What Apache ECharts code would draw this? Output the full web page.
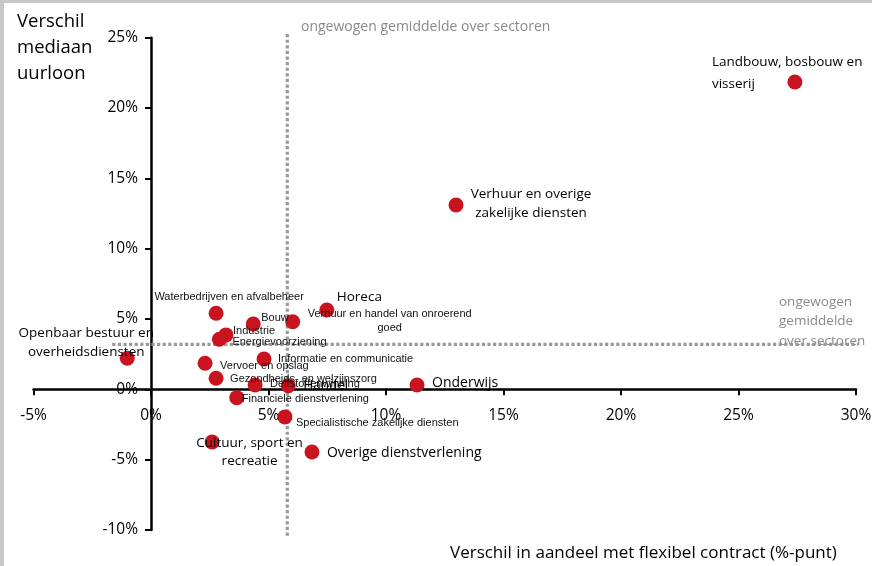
<!DOCTYPE html>
<html>
<head>
<meta charset="utf-8">
<script src="https://cdn.jsdelivr.net/npm/echarts@6/dist/echarts.min.js"></script>
<style>
  html, body { margin: 0; padding: 0; background: #fff; }
  #chart { width: 872px; height: 566px; }
</style>
</head>
<body>
<div id="chart"></div>
<script>
// ---- data ----
const sectors = [
  "Landbouw, bosbouw en\nvisserij",
  "Verhuur en overige\nzakelijke diensten",
  "Horeca",
  "Verhuur en handel van onroerend\ngoed",
  "Waterbedrijven en afvalbeheer",
  "Bouw",
  "Industrie",
  "Energievoorziening",
  "Openbaar bestuur en\noverheidsdiensten",
  "Informatie en communicatie",
  "Vervoer en opslag",
  "Gezondheids- en welzijnszorg",
  "Delfstoffenwinning",
  "Handel",
  "Onderwijs",
  "Financiele dienstverlening",
  "Specialistische zakelijke diensten",
  "Cultuur, sport en\nrecreatie",
  "Overige dienstverlening"
];
// difference in share with flexible contract (%-point)
const flexDiff = [27.40, 12.98, 7.48, 6.03, 2.77, 4.35, 3.19, 2.91, -1.01, 4.81, 2.30, 2.77, 4.43, 5.84, 11.32, 3.65, 5.70, 2.60, 6.85];
// difference in median hourly wage (%)
const wageDiff = [21.85, 13.11, 5.64, 4.81, 5.41, 4.65, 3.87, 3.56, 2.21, 2.16, 1.86, 0.79, 0.31, 0.26, 0.31, -0.59, -1.96, -3.74, -4.45];
const avgFlex = 5.8;   // unweighted average over sectors (x)
const avgWage = 3.2;   // unweighted average over sectors (y)
const xTicks = { min: -5, max: 30, step: 5 };
const yTicks = { min: -10, max: 25, step: 5 };

// ---- label styling (offsets from the point centre, in px) ----
const BIG = { fontFamily: 'Open Sans', fontSize: 13.5, color: '#000' };
const SMALL = { fontFamily: 'Liberation Sans', fontSize: 11, color: '#111' };
const labelStyle = {
  "Landbouw, bosbouw en\nvisserij": { dx: -83, dy: -31, align: 'left', va: 'top', lh: 22, f: BIG },
  "Verhuur en overige\nzakelijke diensten": { dx: 75, dy: -20, align: 'center', va: 'top', lh: 19, f: BIG },
  "Horeca": { dx: 10, dy: -13, align: 'left', va: 'middle', f: BIG },
  "Verhuur en handel van onroerend\ngoed": { dx: 97, dy: -15, align: 'center', va: 'top', lh: 14, f: SMALL },
  "Waterbedrijven en afvalbeheer": { dx: 13, dy: -16, align: 'center', va: 'middle', f: SMALL },
  "Bouw": { dx: 8, dy: -6, align: 'left', va: 'middle', f: SMALL },
  "Industrie": { dx: 7, dy: -4, align: 'left', va: 'middle', f: SMALL },
  "Energievoorziening": { dx: 13, dy: 3, align: 'left', va: 'middle', f: SMALL },
  "Openbaar bestuur en\noverheidsdiensten": { dx: -41, dy: -35, align: 'center', va: 'top', lh: 19, f: BIG },
  "Informatie en communicatie": { dx: 14, dy: 0, align: 'left', va: 'middle', f: SMALL },
  "Vervoer en opslag": { dx: 15, dy: 2.5, align: 'left', va: 'middle', f: SMALL },
  "Gezondheids- en welzijnszorg": { dx: 14, dy: 1, align: 'left', va: 'middle', f: SMALL },
  "Delfstoffenwinning": { dx: 15, dy: -1, align: 'left', va: 'middle', f: SMALL },
  "Handel": { dx: 15, dy: -1, align: 'left', va: 'middle', f: BIG },
  "Onderwijs": { dx: 15, dy: -2, align: 'left', va: 'middle', f: { fontFamily: 'Open Sans', fontSize: 14, color: '#000' } },
  "Financiele dienstverlening": { dx: 5, dy: 1, align: 'left', va: 'middle', f: SMALL },
  "Specialistische zakelijke diensten": { dx: 11, dy: 6, align: 'left', va: 'middle', f: SMALL },
  "Cultuur, sport en\nrecreatie": { dx: 37.5, dy: -8, align: 'center', va: 'top', lh: 18, f: BIG },
  "Overige dienstverlening": { dx: 15, dy: 1, align: 'left', va: 'middle', f: { fontFamily: 'Open Sans', fontSize: 14, color: '#000' } }
};

const SYM = 15;
const pointData = sectors.map((name, i) => {
  const s = labelStyle[name];
  return {
    name: name,
    value: [flexDiff[i], wageDiff[i]],
    label: {
      show: true,
      formatter: name,
      position: [s.dx + SYM / 2, s.dy + SYM / 2],
      align: s.align,
      verticalAlign: s.va,
      lineHeight: s.lh || Math.round(s.f.fontSize * 1.3),
      fontFamily: s.f.fontFamily,
      fontSize: s.f.fontSize,
      color: s.f.color
    }
  };
});

const dotted = { color: '#999999', width: 3.2, type: [3.2, 2.4], cap: 'butt' };
const axisFont = { fontFamily: 'Open Sans', fontSize: 15.5, color: '#000' };

const GRID = { left: 33.5, right: 16, top: 37.7, bottom: 36 };
const chart = echarts.init(document.getElementById('chart'), null, { renderer: 'canvas' });
chart.setOption({
  animation: false,
  backgroundColor: '#ffffff',
  grid: Object.assign({ containLabel: false, outerBoundsMode: 'none' }, GRID),
  xAxis: {
    type: 'value', min: xTicks.min, max: xTicks.max, interval: xTicks.step,
    position: 'bottom', offset: 0,
    axisLine: { onZero: false, lineStyle: { color: '#000', width: 2.5 } },
    axisTick: { show: true, length: 6, lineStyle: { color: '#000', width: 2 } },
    axisLabel: Object.assign({ formatter: '{value}%', margin: 18 }, axisFont),
    splitLine: { show: false }
  },
  yAxis: {
    type: 'value', min: yTicks.min, max: yTicks.max, interval: yTicks.step,
    position: 'left', offset: 0,
    axisLine: { onZero: false, lineStyle: { color: '#000', width: 2.5 } },
    axisTick: { show: true, length: 6, lineStyle: { color: '#000', width: 2 } },
    axisLabel: Object.assign({ formatter: '{value}%', margin: 13 }, axisFont),
    splitLine: { show: false }
  },
  graphic: [
    { type: 'rect', left: 0, top: 0, shape: { width: 872, height: 3 }, style: { fill: '#c8c8c8' }, silent: true },
    { type: 'rect', left: 0, top: 0, shape: { width: 4, height: 566 }, style: { fill: '#c8c8c8' }, silent: true },
    { type: 'text', left: 17, top: 9, style: { text: 'Verschil\nmediaan\nuurloon', fontFamily: 'Open Sans', fontSize: 18.5, lineHeight: 26, fill: '#000' } },
    { type: 'text', left: 450, top: 545, style: { text: 'Verschil in aandeel met flexibel contract (%-punt)', fontFamily: 'Open Sans', fontSize: 17, fill: '#000' } },
    { type: 'text', left: 301, top: 20, style: { text: 'ongewogen gemiddelde over sectoren', fontFamily: 'Open Sans', fontSize: 14, fill: '#8a8a8a' } },
    { type: 'text', left: 779, top: 292, style: { text: 'ongewogen\ngemiddelde\nover sectoren', fontFamily: 'Open Sans', fontSize: 13.5, lineHeight: 19.5, fill: '#8a8a8a' } }
  ],
  series: [
    {
      type: 'line', silent: true, clip: false, symbol: 'none', z: 1,
      data: [[avgFlex, -10.4], [avgFlex, 25.35]],
      lineStyle: dotted
    },
    {
      type: 'line', silent: true, clip: false, symbol: 'none', z: 1,
      data: [[-1.65, avgWage], [30.5, avgWage]],
      lineStyle: dotted
    },
    {
      type: 'scatter', z: 3,
      symbolSize: SYM,
      itemStyle: { color: '#c8141f', opacity: 1 },
      data: pointData
    }
  ]
});

// Move the axes so that they cross at the origin (labels follow the axis line).
const origin = chart.convertToPixel({ gridIndex: 0 }, [0, 0]);
const gridRect = chart.getModel().getComponent('grid', 0).coordinateSystem.getRect();
chart.setOption({
  xAxis: { offset: origin[1] - (gridRect.y + gridRect.height) },
  yAxis: { offset: gridRect.x - origin[0] }
});
</script>
</body>
</html>
